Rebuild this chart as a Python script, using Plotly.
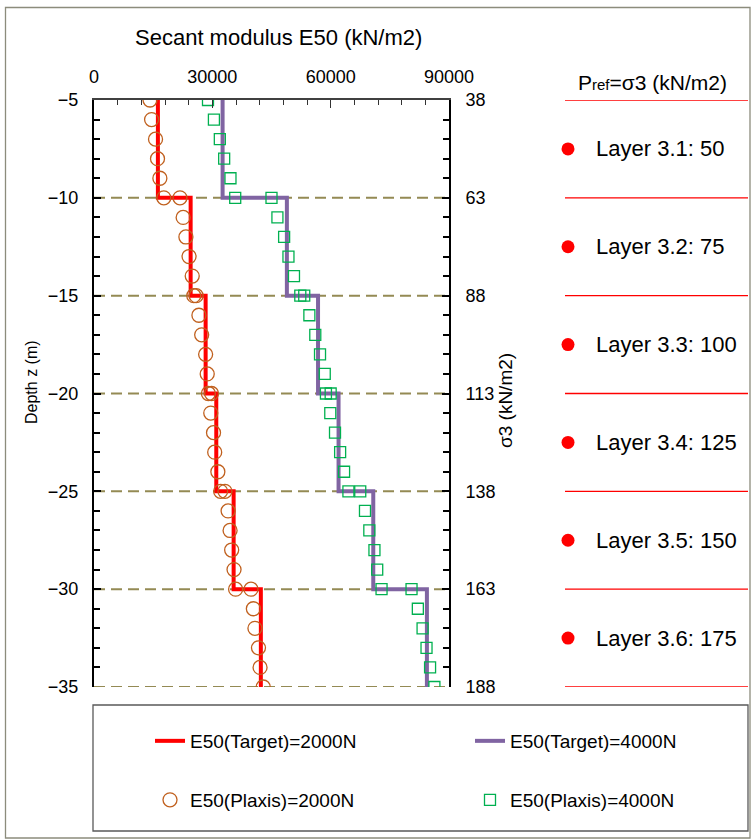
import plotly.graph_objects as go

W, H = 751, 839
def px(x): return x / W
def py(y): return 1 - y / H

# ---------------- data ----------------
layer_top = [-5, -10, -15, -20, -25, -30]
layer_bottom = -35
E50_target_2000 = [16200, 24500, 28300, 31000, 35400, 42300]
E50_target_4000 = [32600, 48900, 56800, 62000, 70800, 84400]

circ_depth = [-5, -6, -7, -8, -9, -10, -10, -11, -12, -13, -14, -15, -15, -16, -17, -18, -19,
              -20, -20, -21, -22, -23, -24, -25, -25, -26, -27, -28, -29, -30, -30,
              -31, -32, -33, -34, -35]
E50_plaxis_2000 = [14200, 14600, 15600, 16100, 16700, 17700, 21800, 22600, 23300, 24100, 24900,
                   25300, 25900, 26600, 27300, 28300, 28700, 29000, 29800, 29600, 30300, 30600,
                   31400, 32100, 33200, 34000, 34500, 34900, 35500, 35900, 39800, 40400, 40800,
                   41700, 42100, 42900]

sq_depth = [-5, -6, -7, -8, -9, -10, -10, -11, -12, -13, -14, -15, -15, -16, -17, -18, -19,
            -20, -20, -21, -22, -23, -24, -25, -25, -26, -27, -28, -29, -30, -30,
            -31, -32, -33, -34, -35]
E50_plaxis_4000 = [28900, 30400, 31900, 33000, 34600, 35800, 45000, 46500, 48200, 49300, 50700,
                   52300, 53300, 54600, 56100, 57300, 58500, 58800, 60000, 59900, 61100, 62400,
                   63400, 64500, 67500, 68700, 69800, 71100, 71800, 72900, 80500, 82100, 83300,
                   84300, 85200, 86300]

x_ticks = [0, 30000, 60000, 90000]
depth_ticks = [-5, -10, -15, -20, -25, -30, -35]
sigma3_ticks = [38, 63, 88, 113, 138, 163, 188]
layer_names = ["3.1", "3.2", "3.3", "3.4", "3.5", "3.6"]
p_ref = [50, 75, 100, 125, 150, 175]

FONT = "Liberation Sans, Arial, sans-serif"

# step lines
step_y = layer_top + [layer_bottom]
step_x2000 = E50_target_2000 + [E50_target_2000[-1]]
step_x4000 = E50_target_4000 + [E50_target_4000[-1]]

fig = go.Figure()
fig.add_trace(go.Scatter(x=step_x2000, y=step_y, mode="lines", line=dict(color="#FF0000", width=4, shape="vh"),
                         name="E50(Target)=2000N", legend="legend"))
fig.add_trace(go.Scatter(x=step_x4000, y=step_y, mode="lines", line=dict(color="#8064A2", width=4, shape="vh"),
                         name="E50(Target)=4000N", legend="legend2"))
fig.add_trace(go.Scatter(x=E50_plaxis_2000, y=circ_depth, mode="markers",
                         marker=dict(symbol="circle-open", size=14, color="#C0601E", line=dict(width=1.3)),
                         name="E50(Plaxis)=2000N", legend="legend3"))
fig.add_trace(go.Scatter(x=E50_plaxis_4000, y=sq_depth, mode="markers",
                         marker=dict(symbol="square-open", size=11, color="#00B050", line=dict(width=1.3)),
                         name="E50(Plaxis)=4000N", legend="legend4"))
# invisible trace for right axis
fig.add_trace(go.Scatter(x=[0, 0], y=[38, 188], yaxis="y2", mode="markers",
                         marker=dict(opacity=0), showlegend=False, hoverinfo="skip"))
# right panel dots at layer mid-depths
mid_depths = [t - 2.5 for t in layer_top]
fig.add_trace(go.Scatter(x=[568] * len(mid_depths), y=mid_depths, xaxis="x2", yaxis="y", mode="markers",
                         marker=dict(color="#FF0000", size=13), showlegend=False, hoverinfo="skip"))

shapes = []
# dashed layer boundaries
for d in layer_top[1:] + [layer_bottom]:
    shapes.append(dict(type="line", xref="x domain", yref="y", x0=0, x1=1, y0=d, y1=d,
                       line=dict(color="#948A54", width=2, dash="11px,6px"), layer="below"))
# right panel red separators
for d in layer_top + [layer_bottom]:
    shapes.append(dict(type="line", xref="paper", yref="y", x0=px(565), x1=px(748), y0=d, y1=d,
                       line=dict(color="#FF0000", width=1.4)))
# legend box
shapes.append(dict(type="rect", xref="paper", yref="paper", x0=px(93), x1=px(748), y0=py(831), y1=py(705),
                   line=dict(color="#595959", width=1.3)))
# outer frame
shapes.append(dict(type="rect", xref="paper", yref="paper", x0=px(5.5), x1=px(750), y0=py(838), y1=py(7.5),
                   line=dict(color="#8C8C7C", width=1.3)))

annotations = [
    dict(text="Secant modulus E50 (kN/m2)", x=px(278), y=py(38), xref="paper", yref="paper",
         showarrow=False, font=dict(size=22, color="black"), xanchor="center", yanchor="middle"),
    dict(text="Depth z (m)", x=px(31), y=py(382), xref="paper", yref="paper", textangle=-90,
         showarrow=False, font=dict(size=16, color="black"), xanchor="center", yanchor="middle"),
    dict(text="σ3 (kN/m2)", x=px(506), y=py(401), xref="paper", yref="paper", textangle=-90,
         showarrow=False, font=dict(size=19, color="black"), xanchor="center", yanchor="middle"),
    dict(text="P<span style='font-size:15px'>ref</span>=σ3 (kN/m2)", x=px(576), y=py(82),
         xref="paper", yref="paper", showarrow=False, font=dict(size=21, color="black"),
         xanchor="left", yanchor="middle"),
]
for name, p, d in zip(layer_names, p_ref, mid_depths):
    annotations.append(dict(text=f"Layer {name}: {p}", x=px(594), y=d, xref="paper", yref="y",
                            showarrow=False, font=dict(size=22, color="black"),
                            xanchor="left", yanchor="middle"))

def leg(x, y):
    return dict(orientation="h", x=px(x), y=py(y), xanchor="left", yanchor="middle",
                xref="paper", yref="paper", font=dict(size=19),
                bgcolor="rgba(0,0,0,0)", borderwidth=0)

fig.update_layout(
    width=W, height=H,
    margin=dict(l=0, r=0, t=0, b=0, autoexpand=False),
    paper_bgcolor="white", plot_bgcolor="white",
    font=dict(family=FONT, color="black"),
    xaxis=dict(domain=[px(94), px(449)], range=[0, 90000], side="top", anchor="y", automargin=False,
               tickvals=x_ticks, tickformat="d", ticks="inside", ticklen=8, tickwidth=1.3, tickcolor="#333",
               minor=dict(dtick=6000, tick0=0, ticks="inside", ticklen=5, tickcolor="#333", tickwidth=1.3),
               showline=True, linecolor="#404040", linewidth=1.5, showgrid=False, zeroline=False,
               tickfont=dict(size=18), ticklabelstandoff=8),
    xaxis2=dict(domain=[px(555), px(751)], range=[555, 751], anchor="y", visible=False),
    yaxis=dict(domain=[py(687), py(100)], range=[-35, -5], anchor="x", automargin=False,
               tickvals=depth_ticks, ticks="inside", ticklen=7, tickwidth=1.5, tickcolor="black",
               minor=dict(dtick=1, tick0=0, ticks="inside", ticklen=6, tickcolor="black", tickwidth=1.5),
               showline=True, linecolor="black", linewidth=2, showgrid=False, zeroline=False,
               tickfont=dict(size=18), ticklabelstandoff=10),
    yaxis2=dict(overlaying="y", side="right", anchor="x", range=[188, 38], automargin=False,
                tickvals=sigma3_ticks, ticks="inside", ticklen=7, tickwidth=1.5, tickcolor="black",
                minor=dict(dtick=5, tick0=38, ticks="inside", ticklen=6, tickcolor="black", tickwidth=1.5),
                showline=True, linecolor="black", linewidth=2, showgrid=False, zeroline=False,
                tickfont=dict(size=18), ticklabelstandoff=11),
    legend=leg(150, 741),
    legend2=leg(470, 741),
    legend3=leg(150, 800),
    legend4=leg(470, 800),
    shapes=shapes,
    annotations=annotations,
    showlegend=True,
)

fig.write_html("out.html", config={"displayModeBar": False},
               post_script="document.body.style.margin='0';document.body.style.padding='0';")
